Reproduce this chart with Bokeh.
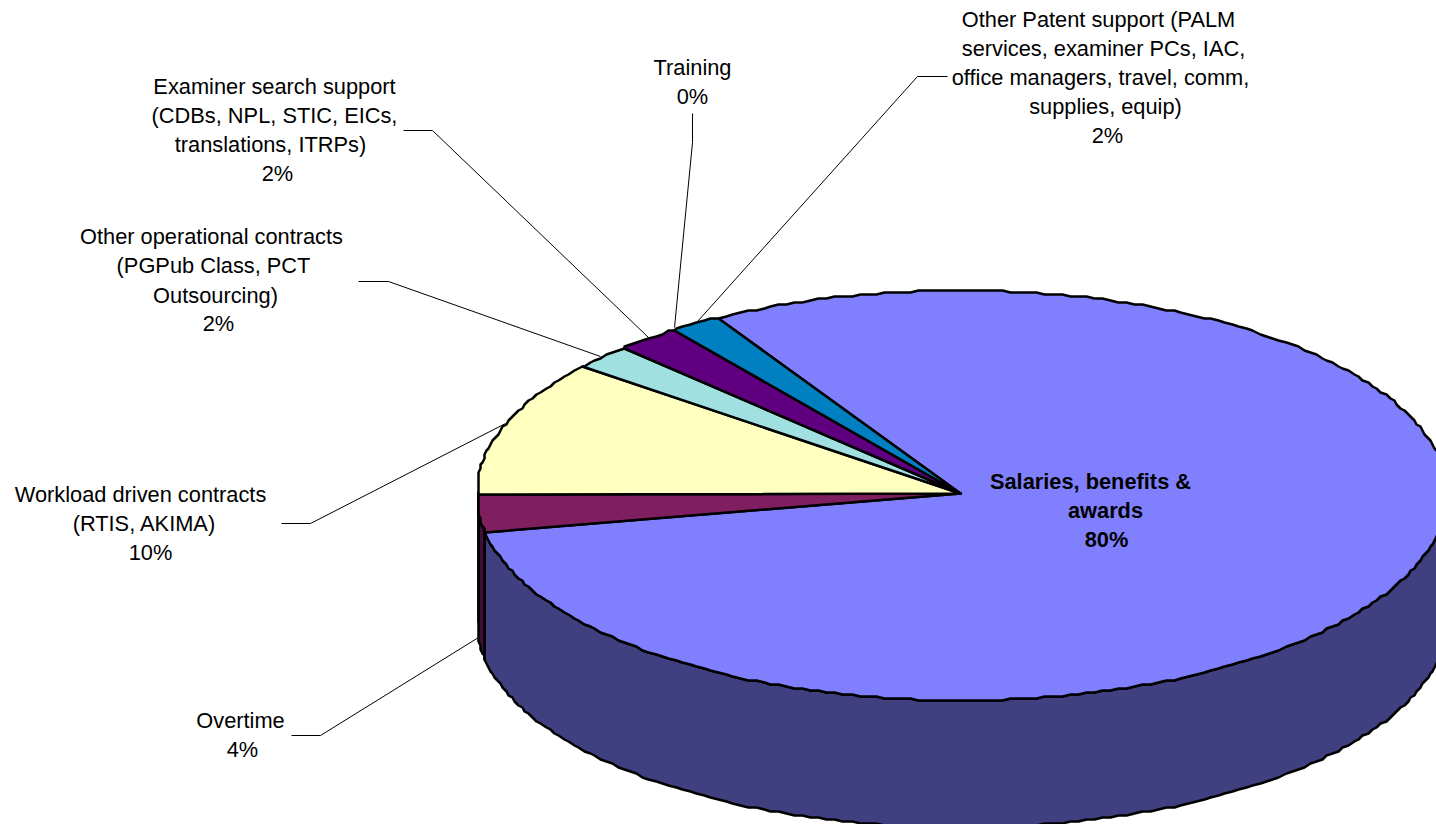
import numpy as np
from bokeh.plotting import figure
from bokeh.models import Range1d, ColumnDataSource
from bokeh.core.properties import value
from bokeh.embed import file_html
from bokeh.resources import INLINE

# ---- data ----
categories = ["Salaries, benefits & awards", "Overtime", "Workload driven contracts",
              "Other operational contracts", "Examiner search support", "Training",
              "Other Patent support"]
shares = [80.3, 3.0, 10.8, 2.0, 2.2, 0.0, 1.7]
top_colors = ["#8080FF", "#7F1F5F", "#FFFFC0", "#A0E0E0", "#600080", "#600080", "#0080C0"]
side_colors = ["#404080", "#40103A", "#808060", "#507070", "#300040", "#300040", "#004060"]

label_lines = [
    ["Salaries, benefits &", "awards", "80%"],
    ["Overtime", "4%"],
    ["Workload driven contracts", "(RTIS, AKIMA)", "10%"],
    ["Other operational contracts", "(PGPub Class, PCT", "Outsourcing)", "2%"],
    ["Examiner search support", "(CDBs, NPL, STIC, EICs,", "translations, ITRPs)", "2%"],
    ["Training", "0%"],
    ["Other Patent support (PALM", "services, examiner PCs, IAC,", "office managers, travel, comm,", "supplies, equip)", "2%"],
]

# ---- layout (page pixels of the chart) ----
label_cx = [[1090, 1105, 1106], [240, 242], [140, 144, 150], [211, 213, 215, 218],
            [274, 274, 270, 277], [692, 692], [1098, 1103, 1100, 1105, 1107]]
label_cy = [[481, 510, 539], [720, 749], [494, 523, 552], [236, 265, 295, 323],
            [86, 115, 144, 173], [67, 96], [19, 48, 77, 106, 135]]
leaders = [None,
           ([478, 320, 291], [637, 735, 735]),
           ([505, 310, 281], [423, 523, 523]),
           ([600, 388, 358], [356, 281, 281]),
           ([648, 432, 403], [337, 130, 130]),
           ([674, 692, 692], [327, 142, 113]),
           ([697, 917, 947], [321, 76, 76])]

CX, CY = 960.0, 493.0
APEX = (960.0, 493.0)
RX_L, RX_R, RY_T, RY_B = 484.0, 486.0, 203.0, 207.0
LEFT_EDGE = 478.0
DEPTH = 127.0
GRID = 2.0
STEP = 1.0
START = 120.0


def rim(a_deg):
    a = np.radians(a_deg)
    c, s = np.cos(a), np.sin(a)
    x = np.maximum(CX + c * np.where(c < 0, RX_L, RX_R), LEFT_EDGE)
    y = CY - s * np.where(s > 0, RY_T, RY_B)
    return np.round(x / GRID) * GRID, np.round(y / GRID) * GRID


def arc_angles(a0, a1):
    inner = np.arange(np.floor(a0 / STEP) * STEP, a1, -STEP)
    inner = inner[(inner < a0) & (inner > a1)]
    return np.concatenate([[a0], inner, [a1]])


sweeps = np.array(shares) / sum(shares) * 360.0
edges = START - np.concatenate([[0], np.cumsum(sweeps)])

p = figure(width=1436, height=824, x_range=Range1d(0, 1436), y_range=Range1d(824, 0),
           output_backend="svg", toolbar_location=None, min_border=0)
p.axis.visible = False
p.grid.visible = False
p.outline_line_color = None
p.background_fill_color = "white"

# side wall: only the lower half of the rim faces the viewer
for i in range(len(shares)):
    v0, v1 = min(edges[i], 0.0), max(edges[i + 1], -180.0)
    if v0 <= v1:
        continue
    x, y = rim(arc_angles(v0, v1))
    xs = np.concatenate([x, x[::-1]])
    ys = np.concatenate([y, (y + DEPTH)[::-1]])
    p.patch(xs, ys, fill_color=side_colors[i], line_color="black", line_width=2.5, line_join="round")

# top face
for i in range(len(shares)):
    x, y = rim(arc_angles(edges[i], edges[i + 1]))
    xs = np.concatenate([[APEX[0]], x, [APEX[0]]])
    ys = np.concatenate([[APEX[1]], y, [APEX[1]]])
    p.patch(xs, ys, fill_color=top_colors[i], line_color="black", line_width=2.5, line_join="round")

# leader lines
for leader in leaders:
    if leader:
        p.line(leader[0], leader[1], line_color="black", line_width=1)

# labels
for i, lines in enumerate(label_lines):
    src = ColumnDataSource(dict(x=label_cx[i], y=label_cy[i], t=lines))
    p.text("x", "y", text="t", source=src, text_align="center", text_baseline="middle",
           text_font=value("Liberation Sans"), text_font_size="21.8px", text_color="black",
           text_font_style="bold" if i == 0 else "normal")

open("out.html", "w").write(file_html(p, INLINE))
